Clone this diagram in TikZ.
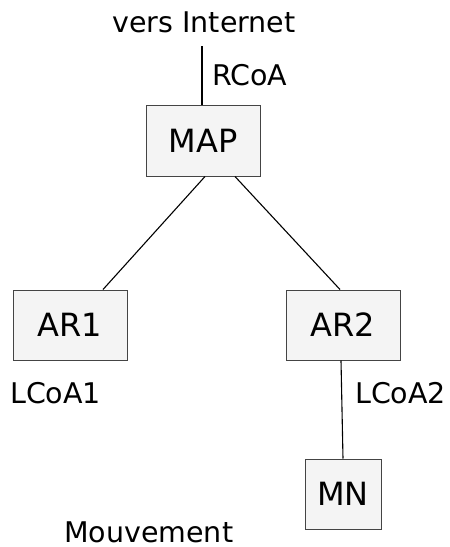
\documentclass[tikz,border=0pt]{standalone}
\usepackage{fontspec}
\setmainfont{DejaVu Sans}
\definecolor{boxfill}{HTML}{F4F4F4}
\definecolor{boxborder}{HTML}{444444}
\begin{document}
\begin{tikzpicture}[x=1pt,y=-1pt,
  box/.style={draw=boxborder, fill=boxfill, line width=1pt, inner sep=0pt,
    font=\fontsize{32}{38}\selectfont},
  lbl/.style={anchor=base west, inner sep=0pt, text depth=0pt, font=\fontsize{28.5}{34}\selectfont},
  link/.style={line width=1.1pt, black}]
\useasboundingbox (0,0) rectangle (450,547);
\node[box, minimum width=114pt, minimum height=71pt] (MAP) at (203,140.5) {MAP};
\node[box, minimum width=114pt, minimum height=70pt] (AR1) at (70,325) {AR1};
\node[box, minimum width=114pt, minimum height=70pt] (AR2) at (343,325) {AR2};
\node[box, minimum width=76pt, minimum height=70pt] (MN) at (343,494) {MN};
\coordinate (top) at (202,46);
\node[lbl, anchor=base] (inet) at (204,32) {vers Internet};
\node[lbl] (rcoa) at (212,85) {RCoA};
\node[lbl] (lcoa1) at (10,403) {LCoA1};
\node[lbl] (lcoa2) at (355,403) {LCoA2};
\node[lbl] (mvt) at (64,542) {Mouvement};
\draw[link] (top) -- (top |- MAP.north);
\draw[link] ([xshift=2pt]MAP.south) -- ([xshift=33pt]AR1.north);
\draw[link] ([xshift=32pt]MAP.south) -- ([xshift=-3pt]AR2.north);
\draw[link] ([xshift=-2pt]AR2.south) -- (MN.north);
\end{tikzpicture}
\end{document}
